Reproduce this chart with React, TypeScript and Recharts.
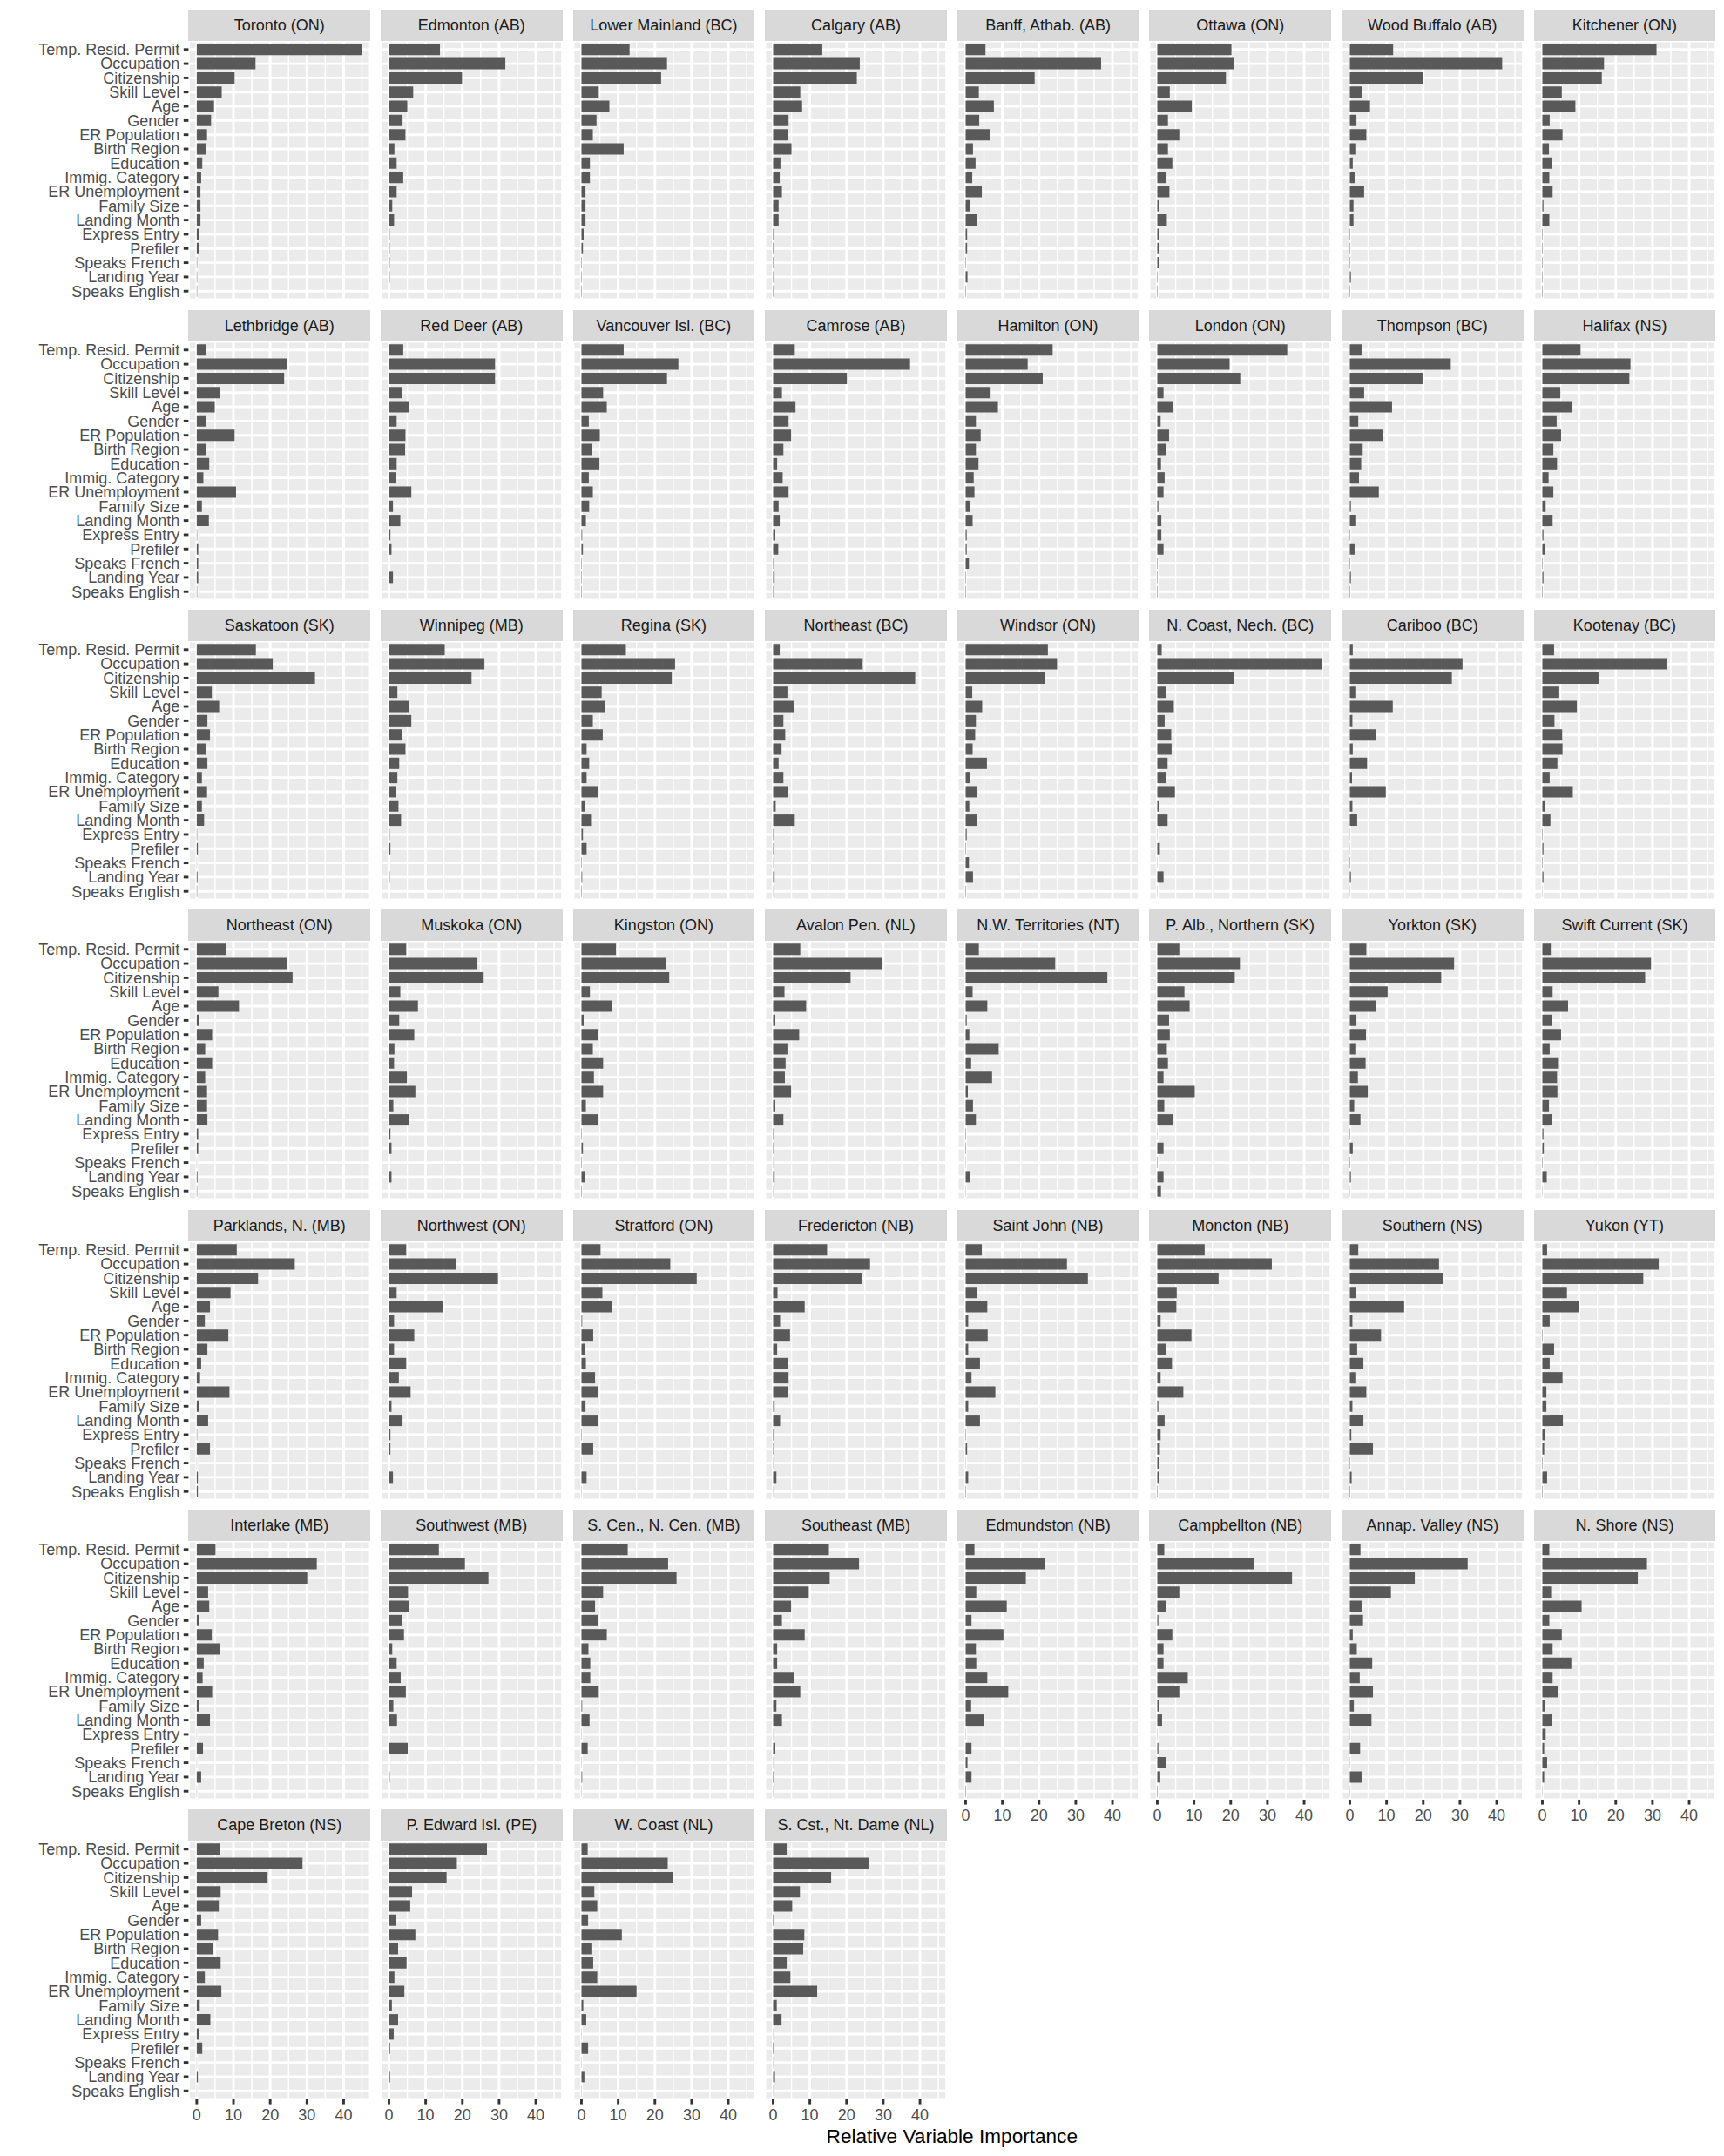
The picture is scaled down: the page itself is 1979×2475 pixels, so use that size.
import React from 'react';
import { BarChart, Bar, XAxis, YAxis, CartesianGrid, ReferenceLine } from 'recharts';

// predictors, top to bottom in every panel
const VARIABLES = [
  'Temp. Resid. Permit', 'Occupation', 'Citizenship', 'Skill Level', 'Age', 'Gender',
  'ER Population', 'Birth Region', 'Education', 'Immig. Category', 'ER Unemployment',
  'Family Size', 'Landing Month', 'Express Entry', 'Prefiler', 'Speaks French',
  'Landing Year', 'Speaks English',
];

const X_TICKS = [0, 10, 20, 30, 40];
const X_MINOR = [5, 15, 25, 35, 45];
const X_DOMAIN = [-2.25, 47.25];

// relative importance per economic region, same order as VARIABLES
const toronto = [44.9, 16.0, 10.3, 6.8, 4.7, 3.9, 2.8, 2.4, 1.5, 1.2, 1.0, 1.0, 1.0, 0.7, 0.7, 0.1, 0.1, 0.1];
const edmonton = [13.9, 31.7, 19.9, 6.6, 5.0, 3.7, 4.5, 1.5, 2.1, 3.9, 2.1, 0.9, 1.4, 0.2, 0.2, 0.2, 0.2, 0.1];
const lowerMainland = [13.1, 23.3, 21.7, 4.7, 7.6, 4.1, 3.1, 11.5, 2.3, 2.3, 1.1, 1.1, 1.1, 0.6, 0.4, 0.1, 0.1, 0.1];
const calgary = [13.4, 23.6, 22.8, 7.4, 7.9, 4.2, 4.1, 5.0, 2.0, 1.8, 2.4, 1.5, 1.5, 0.2, 0.2, 0.1, 0.1, 0.1];
const banff = [5.4, 36.9, 18.8, 3.6, 7.7, 3.7, 6.7, 2.0, 2.7, 1.8, 4.4, 1.3, 3.1, 0.4, 0.4, 0.1, 0.5, 0.1];
const ottawa = [20.2, 20.9, 18.7, 3.4, 9.4, 2.9, 6.0, 2.9, 4.1, 2.5, 3.3, 0.6, 2.6, 0.4, 0.4, 0.4, 0.1, 0.1];
const woodBuffalo = [11.8, 41.5, 20.0, 3.4, 5.5, 1.8, 4.5, 1.5, 0.8, 1.3, 3.9, 1.0, 1.0, 0.1, 0.1, 0.1, 0.3, 0.1];
const kitchener = [31.1, 16.8, 16.2, 5.3, 9.0, 2.0, 5.5, 1.8, 2.7, 1.9, 2.8, 0.3, 1.9, 0.1, 0.1, 0.1, 0.1, 0.1];

const lethbridge = [2.4, 24.6, 23.8, 6.4, 4.9, 2.6, 10.3, 2.4, 3.4, 1.8, 10.7, 1.4, 3.3, 0.1, 0.4, 0.4, 0.4, 0.1];
const redDeer = [3.9, 28.9, 28.9, 3.6, 5.5, 2.1, 4.5, 4.4, 2.1, 1.8, 6.1, 1.1, 3.1, 0.4, 0.7, 0.1, 1.1, 0.1];
const vancouverIsl = [11.5, 26.4, 23.3, 5.9, 6.9, 2.0, 5.0, 2.8, 4.9, 2.0, 3.1, 2.1, 1.2, 0.2, 0.4, 0.1, 0.1, 0.1];
const camrose = [5.9, 37.3, 20.1, 2.4, 6.1, 4.2, 4.9, 2.8, 1.1, 2.6, 4.2, 1.5, 1.8, 0.6, 1.4, 0.1, 0.4, 0.1];
const hamilton = [23.7, 16.9, 21.0, 6.8, 8.8, 2.8, 4.1, 2.8, 3.5, 2.2, 2.4, 1.3, 1.9, 0.3, 0.3, 0.9, 0.1, 0.1];
const london = [35.4, 19.7, 22.6, 1.7, 4.3, 0.9, 3.2, 2.5, 1.0, 2.0, 1.7, 0.3, 1.1, 1.1, 1.7, 0.1, 0.1, 0.1];
const thompson = [3.2, 27.5, 19.8, 3.9, 11.5, 2.3, 8.9, 3.5, 3.1, 2.5, 7.9, 0.3, 1.5, 0.1, 1.3, 0.1, 0.3, 0.1];
const halifax = [10.4, 24.0, 23.7, 4.9, 8.2, 3.9, 5.1, 3.0, 4.0, 1.7, 3.0, 0.9, 2.8, 0.3, 0.7, 0.1, 0.3, 0.1];

const saskatoon = [16.1, 20.7, 32.2, 4.1, 6.1, 2.9, 3.6, 2.4, 2.9, 1.4, 2.8, 1.4, 2.0, 0.1, 0.3, 0.05, 0.2, 0.1];
const winnipeg = [15.2, 26.0, 22.5, 2.3, 5.5, 6.1, 3.6, 4.5, 2.8, 2.3, 1.8, 2.6, 3.3, 0.2, 0.4, 0.1, 0.2, 0.1];
const regina = [12.1, 25.5, 24.6, 5.5, 6.4, 3.1, 5.8, 1.4, 2.1, 1.4, 4.5, 0.9, 2.6, 0.4, 1.4, 0.1, 0.2, 0.1];
const northeastBC = [1.8, 24.4, 38.7, 3.9, 5.8, 2.8, 3.3, 2.3, 1.5, 2.8, 4.1, 0.7, 5.9, 0.1, 0.1, 0.05, 0.4, 0.05];
const windsor = [22.4, 24.9, 21.7, 1.8, 4.5, 2.8, 2.6, 1.9, 5.8, 1.3, 3.1, 1.0, 3.2, 0.3, 0.1, 0.9, 2.0, 0.1];
const northCoast = [1.2, 44.9, 21.0, 2.3, 4.5, 2.0, 3.8, 3.9, 2.8, 2.5, 4.8, 0.4, 2.8, 0.05, 0.7, 0.05, 1.7, 0.05];
const cariboo = [0.8, 30.7, 27.8, 1.5, 11.7, 0.7, 7.1, 0.8, 4.7, 0.6, 9.8, 0.7, 2.0, 0.05, 0.05, 0.1, 0.3, 0.05];
const kootenay = [3.2, 33.9, 15.3, 4.6, 9.4, 3.3, 5.4, 5.5, 4.1, 2.0, 8.3, 0.7, 2.2, 0.1, 0.3, 0.1, 0.3, 0.05];

const northeastON = [8.0, 24.7, 26.1, 5.9, 11.5, 0.6, 4.2, 2.3, 4.2, 2.3, 2.8, 2.8, 2.9, 0.4, 0.4, 0.05, 0.2, 0.1];
const muskoka = [4.7, 24.1, 25.8, 3.1, 7.9, 2.8, 6.9, 1.5, 1.4, 4.9, 7.2, 1.2, 5.5, 0.4, 0.7, 0.1, 0.7, 0.1];
const kingston = [9.4, 23.1, 23.9, 2.3, 8.4, 0.6, 4.4, 3.1, 5.9, 3.4, 5.9, 1.2, 4.4, 0.1, 0.4, 0.1, 0.9, 0.1];
const avalon = [7.4, 29.8, 21.1, 3.1, 9.0, 0.6, 7.1, 3.9, 3.4, 3.2, 4.9, 0.6, 2.8, 0.1, 0.1, 0.05, 0.4, 0.05];
const nwTerritories = [3.6, 24.4, 38.6, 1.9, 5.9, 0.3, 1.0, 9.0, 1.5, 7.2, 0.6, 2.0, 2.8, 0.1, 0.1, 0.05, 1.2, 0.05];
const princeAlbert = [6.0, 22.5, 21.1, 7.4, 8.8, 3.2, 3.4, 2.6, 2.9, 1.7, 10.2, 1.9, 4.2, 0.05, 1.7, 0.1, 1.7, 1.0];
const yorkton = [4.5, 28.4, 24.9, 10.3, 7.1, 1.8, 4.4, 1.5, 4.3, 2.2, 4.9, 1.2, 2.9, 0.1, 0.8, 0.1, 0.3, 0.05];
const swiftCurrent = [2.3, 29.6, 28.0, 2.8, 7.0, 2.6, 5.1, 2.0, 4.5, 4.0, 4.1, 1.8, 2.7, 0.3, 0.4, 0.1, 1.2, 0.05];

const parklands = [10.9, 26.7, 16.7, 9.2, 3.6, 2.2, 8.6, 2.9, 1.2, 0.9, 8.9, 0.7, 3.1, 0.1, 3.6, 0.05, 0.3, 0.3];
const northwestON = [4.7, 18.2, 29.7, 2.1, 14.7, 1.4, 6.9, 1.4, 4.7, 2.7, 5.9, 0.7, 3.7, 0.4, 0.4, 0.1, 1.1, 0.1];
const stratford = [5.2, 24.2, 31.4, 5.7, 8.2, 0.2, 3.2, 0.9, 1.2, 3.7, 4.6, 1.1, 4.4, 0.1, 3.2, 0.05, 1.4, 0.05];
const fredericton = [14.7, 26.4, 24.2, 1.2, 8.6, 1.9, 4.6, 1.1, 4.1, 4.2, 4.1, 0.4, 1.9, 0.2, 0.1, 0.05, 0.9, 0.05];
const saintJohn = [4.4, 27.6, 33.3, 3.1, 5.9, 0.7, 6.0, 0.7, 3.9, 1.6, 8.1, 0.7, 3.9, 0.1, 0.4, 0.05, 0.7, 0.1];
const moncton = [12.9, 31.2, 16.7, 5.3, 5.2, 0.9, 9.3, 2.5, 4.0, 0.9, 7.1, 0.3, 2.0, 0.9, 0.7, 0.4, 0.4, 0.1];
const southernNS = [2.3, 24.3, 25.3, 1.7, 14.8, 0.7, 8.5, 2.0, 3.7, 1.5, 4.5, 0.7, 3.7, 0.4, 6.3, 0.1, 0.5, 0.1];
const yukon = [1.3, 31.7, 27.5, 6.7, 10.0, 2.0, 0.1, 3.2, 2.0, 5.5, 1.1, 1.1, 5.6, 0.7, 0.5, 0.1, 1.3, 0.1];

const interlake = [5.1, 32.7, 30.1, 3.1, 3.4, 0.7, 4.1, 6.4, 1.9, 1.6, 4.2, 0.6, 3.6, 0.05, 1.7, 0.05, 1.2, 0.05];
const southwestMB = [13.6, 20.7, 27.1, 5.2, 5.4, 3.6, 4.1, 0.9, 2.1, 3.2, 4.6, 1.2, 2.2, 0.05, 5.1, 0.05, 0.2, 0.05];
const southCentral = [12.6, 23.6, 25.9, 5.9, 3.7, 4.4, 6.9, 1.9, 2.4, 2.4, 4.7, 0.2, 2.2, 0.05, 1.7, 0.05, 0.2, 0.05];
const southeastMB = [15.2, 23.4, 15.4, 9.7, 4.9, 2.4, 8.6, 1.1, 1.1, 5.6, 7.4, 0.9, 2.4, 0.05, 0.6, 0.05, 0.2, 0.05];
const edmundston = [2.4, 21.7, 16.4, 2.9, 11.2, 1.6, 10.3, 2.8, 2.9, 5.9, 11.6, 1.5, 4.9, 0.05, 1.6, 0.5, 1.6, 0.1];
const campbellton = [1.9, 26.4, 36.7, 6.0, 2.3, 0.3, 4.1, 1.7, 1.7, 8.3, 6.0, 0.4, 1.3, 0.05, 0.3, 2.3, 0.8, 0.1];
const annapolis = [2.9, 32.1, 17.7, 11.2, 3.2, 3.6, 0.8, 1.9, 6.1, 2.7, 6.3, 1.1, 5.9, 0.05, 2.8, 0.05, 3.2, 0.05];
const northShore = [1.9, 28.5, 26.0, 2.4, 10.7, 1.9, 5.3, 2.8, 7.9, 2.8, 4.3, 0.8, 2.7, 0.9, 0.5, 1.3, 0.5, 0.05];

const capeBreton = [6.3, 28.8, 19.3, 6.5, 6.0, 1.2, 5.8, 4.5, 6.5, 2.2, 6.7, 0.8, 3.7, 0.5, 1.5, 0.05, 0.3, 0.05];
const princeEdward = [26.7, 18.5, 15.7, 6.3, 5.8, 2.0, 7.2, 2.5, 4.8, 1.5, 4.2, 0.8, 2.5, 1.3, 0.3, 0.1, 0.3, 0.1];
const westCoast = [1.7, 23.5, 25.0, 3.5, 4.3, 1.8, 11.0, 2.7, 3.2, 4.3, 15.0, 0.5, 1.3, 0.05, 1.8, 0.05, 0.8, 0.05];
const southCoast = [3.7, 26.2, 15.8, 7.3, 5.2, 0.3, 8.5, 8.2, 3.7, 4.7, 12.0, 1.0, 2.3, 0.05, 0.2, 0.05, 0.5, 0.05];

const PANELS = [
  { region: 'Toronto (ON)', values: toronto },
  { region: 'Edmonton (AB)', values: edmonton },
  { region: 'Lower Mainland (BC)', values: lowerMainland },
  { region: 'Calgary (AB)', values: calgary },
  { region: 'Banff, Athab. (AB)', values: banff },
  { region: 'Ottawa (ON)', values: ottawa },
  { region: 'Wood Buffalo (AB)', values: woodBuffalo },
  { region: 'Kitchener (ON)', values: kitchener },
  { region: 'Lethbridge (AB)', values: lethbridge },
  { region: 'Red Deer (AB)', values: redDeer },
  { region: 'Vancouver Isl. (BC)', values: vancouverIsl },
  { region: 'Camrose (AB)', values: camrose },
  { region: 'Hamilton (ON)', values: hamilton },
  { region: 'London (ON)', values: london },
  { region: 'Thompson (BC)', values: thompson },
  { region: 'Halifax (NS)', values: halifax },
  { region: 'Saskatoon (SK)', values: saskatoon },
  { region: 'Winnipeg (MB)', values: winnipeg },
  { region: 'Regina (SK)', values: regina },
  { region: 'Northeast (BC)', values: northeastBC },
  { region: 'Windsor (ON)', values: windsor },
  { region: 'N. Coast, Nech. (BC)', values: northCoast },
  { region: 'Cariboo (BC)', values: cariboo },
  { region: 'Kootenay (BC)', values: kootenay },
  { region: 'Northeast (ON)', values: northeastON },
  { region: 'Muskoka (ON)', values: muskoka },
  { region: 'Kingston (ON)', values: kingston },
  { region: 'Avalon Pen. (NL)', values: avalon },
  { region: 'N.W. Territories (NT)', values: nwTerritories },
  { region: 'P. Alb., Northern (SK)', values: princeAlbert },
  { region: 'Yorkton (SK)', values: yorkton },
  { region: 'Swift Current (SK)', values: swiftCurrent },
  { region: 'Parklands, N. (MB)', values: parklands },
  { region: 'Northwest (ON)', values: northwestON },
  { region: 'Stratford (ON)', values: stratford },
  { region: 'Fredericton (NB)', values: fredericton },
  { region: 'Saint John (NB)', values: saintJohn },
  { region: 'Moncton (NB)', values: moncton },
  { region: 'Southern (NS)', values: southernNS },
  { region: 'Yukon (YT)', values: yukon },
  { region: 'Interlake (MB)', values: interlake },
  { region: 'Southwest (MB)', values: southwestMB },
  { region: 'S. Cen., N. Cen. (MB)', values: southCentral },
  { region: 'Southeast (MB)', values: southeastMB },
  { region: 'Edmundston (NB)', values: edmundston },
  { region: 'Campbellton (NB)', values: campbellton },
  { region: 'Annap. Valley (NS)', values: annapolis },
  { region: 'N. Shore (NS)', values: northShore },
  { region: 'Cape Breton (NS)', values: capeBreton },
  { region: 'P. Edward Isl. (PE)', values: princeEdward },
  { region: 'W. Coast (NL)', values: westCoast },
  { region: 'S. Cst., Nt. Dame (NL)', values: southCoast },
];

const FONT = '"Liberation Sans", Arial, Helvetica, sans-serif';
const COLS = 8;
const PANEL_X0 = 216.4;
const PANEL_DX = 220.6;
const PANEL_W = 208.6;
const ROW_Y0 = 11.3;
const ROW_DY = 344.3;
const STRIP_H = 36;
const PANEL_H = 297;
const Y_AXIS_W = 216.4;
const X_AXIS_H = 40;

const tickText = { fill: '#4D4D4D', fontSize: 18, fontFamily: FONT };
const tickMark = { stroke: '#333333', strokeWidth: 2.9 };

function Panel({ region, values, index }: { region: string; values: number[]; index: number }) {
  const col = index % COLS;
  const row = Math.floor(index / COLS);
  const showY = col === 0;
  const showX = index + COLS >= PANELS.length;
  const yw = showY ? Y_AXIS_W : 0;
  const xh = showX ? X_AXIS_H : 0;
  const left = PANEL_X0 + col * PANEL_DX;
  const top = ROW_Y0 + row * ROW_DY;
  const data = VARIABLES.map((name, i) => ({ name, value: values[i] }));

  return (
    <>
      <div
        style={{
          position: 'absolute', left, top, width: PANEL_W, height: STRIP_H,
          background: '#D9D9D9', color: '#1A1A1A', fontSize: 18,
          lineHeight: `${STRIP_H}px`, textAlign: 'center', whiteSpace: 'nowrap',
        }}
      >
        {region}
      </div>
      <div style={{ position: 'absolute', left: left - yw, top: top + STRIP_H }}>
        <BarChart
          width={PANEL_W + yw}
          height={PANEL_H + xh}
          data={data}
          layout="vertical"
          margin={{ top: 0, right: 0, bottom: 0, left: 0 }}
          barCategoryGap="10%"
        >
          <CartesianGrid fill="#EBEBEB" stroke="#FFFFFF" strokeWidth={2.9} />
          {X_MINOR.map(v => (
            <ReferenceLine key={v} x={v} stroke="#FFFFFF" strokeWidth={1.45} zIndex={-90} />
          ))}
          <XAxis
            type="number"
            domain={X_DOMAIN}
            ticks={X_TICKS}
            allowDataOverflow
            hide={!showX}
            height={xh}
            axisLine={false}
            tick={tickText}
            tickLine={tickMark}
            tickSize={5.6}
            tickMargin={6}
            interval={0}
          />
          <YAxis
            type="category"
            dataKey="name"
            hide={!showY}
            width={yw}
            padding={{ top: 1.6, bottom: 1.6 }}
            axisLine={false}
            tick={tickText}
            tickLine={tickMark}
            tickSize={5.6}
            tickMargin={4.5}
            interval={0}
          />
          <Bar dataKey="value" fill="#595959" isAnimationActive={false} />
        </BarChart>
      </div>
    </>
  );
}

export default function App() {
  return (
    <div
      style={{
        position: 'absolute', left: 0, top: 0, width: 1979, height: 2475,
        background: '#FFFFFF', fontFamily: FONT, overflow: 'hidden',
      }}
    >
      {PANELS.map((p, i) => (
        <Panel key={p.region} region={p.region} values={p.values} index={i} />
      ))}
      <div
        style={{
          position: 'absolute', left: PANEL_X0, width: PANEL_X0 + 7 * PANEL_DX + PANEL_W - PANEL_X0,
          top: 2440, textAlign: 'center', fontSize: 22.6, lineHeight: '26px', color: '#000000',
        }}
      >
        Relative Variable Importance
      </div>
    </div>
  );
}
